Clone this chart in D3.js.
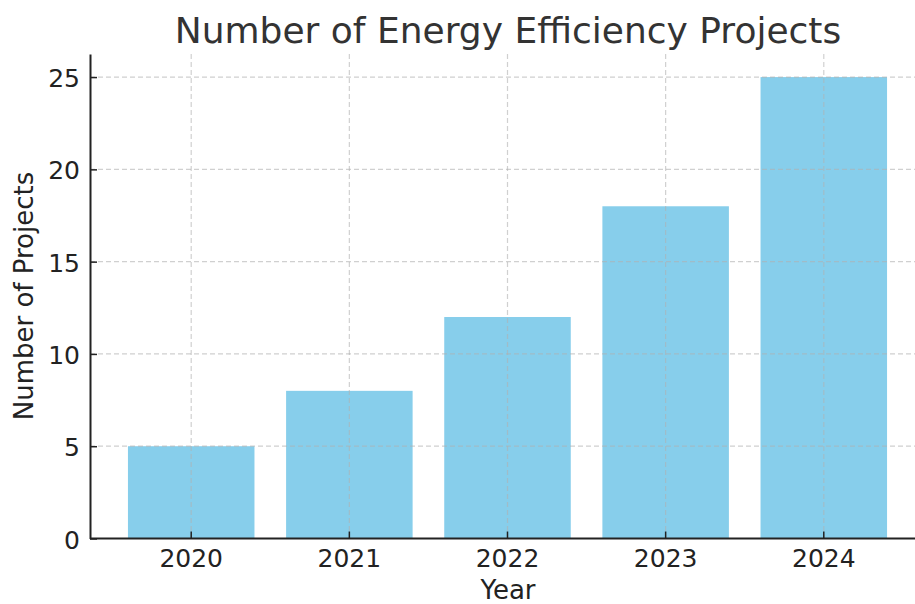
<!DOCTYPE html>
<html>
<head>
<meta charset="utf-8">
<script src="https://cdn.jsdelivr.net/npm/d3@7"></script>
<style>
  body { margin: 0; background: #fff; }
  svg { display: block; font-family: "DejaVu Sans", sans-serif; }
</style>
</head>
<body>
<svg id="chart" width="915" height="604"></svg>
<script>
const years = ["2020", "2021", "2022", "2023", "2024"];
const projects = [5, 8, 12, 18, 25];
const yTicks = [0, 5, 10, 15, 20, 25];

const svg = d3.select("#chart");
const plotLeft = 90, plotRight = 925, plotTop = 54, plotBottom = 538.5;

const x = d3.scaleBand().domain(years).range([plotLeft, plotRight])
  .paddingInner(0.2).paddingOuter(0.24);
const y = d3.scaleLinear().domain([0, 26.25]).range([plotBottom, plotTop]);

// grid
let grid = svg.append("g");
grid.selectAll(".gx").data(years).enter().append("line")
  .attr("x1", d => x(d) + x.bandwidth() / 2).attr("x2", d => x(d) + x.bandwidth() / 2)
  .attr("y1", plotTop).attr("y2", plotBottom);
grid.selectAll(".gy").data(yTicks).enter().append("line")
  .attr("x1", plotLeft).attr("x2", 915)
  .attr("y1", d => y(d)).attr("y2", d => y(d));

// bars
svg.append("g").selectAll("rect").data(projects).enter().append("rect")
  .attr("x", (d, i) => x(years[i]))
  .attr("y", d => y(d))
  .attr("width", x.bandwidth())
  .attr("height", d => plotBottom - y(d))
  .attr("fill", "#87ceeb");

// grid on top of bars
grid.raise();
grid.selectAll("line")
  .attr("stroke", "#b0b0b0").attr("stroke-opacity", 0.6)
  .attr("stroke-width", 1.2).attr("stroke-dasharray", "5,3");

// axes
let xAxis = svg.append("g").attr("transform", `translate(0,${plotBottom})`)
  .call(d3.axisBottom(x).tickSizeInner(-7).tickSizeOuter(0).tickPadding(11));
xAxis.select(".domain").attr("d", `M${plotLeft},0H915`);
let yAxis = svg.append("g").attr("transform", `translate(${plotLeft},0)`)
  .call(d3.axisLeft(y).tickValues(yTicks).tickSizeInner(-7).tickSizeOuter(0).tickPadding(10));

svg.selectAll(".domain").attr("stroke", "#222").attr("stroke-width", 2);
svg.selectAll(".tick line").attr("stroke", "#222").attr("stroke-width", 1.5);
svg.selectAll(".tick text").attr("font-size", 25).attr("fill", "#222")
  .attr("font-family", "DejaVu Sans");
yAxis.selectAll(".tick text").attr("dy", "0.38em");

// titles
svg.append("text").attr("x", 508).attr("y", 43).attr("text-anchor", "middle")
  .attr("font-size", 36).attr("fill", "#333").text("Number of Energy Efficiency Projects");
svg.append("text").attr("x", 508).attr("y", 599).attr("text-anchor", "middle")
  .attr("font-size", 26).attr("fill", "#222").text("Year");
svg.append("text").attr("transform", `translate(33,296) rotate(-90)`)
  .attr("text-anchor", "middle").attr("font-size", 26).attr("fill", "#222")
  .text("Number of Projects");
</script>
</body>
</html>
